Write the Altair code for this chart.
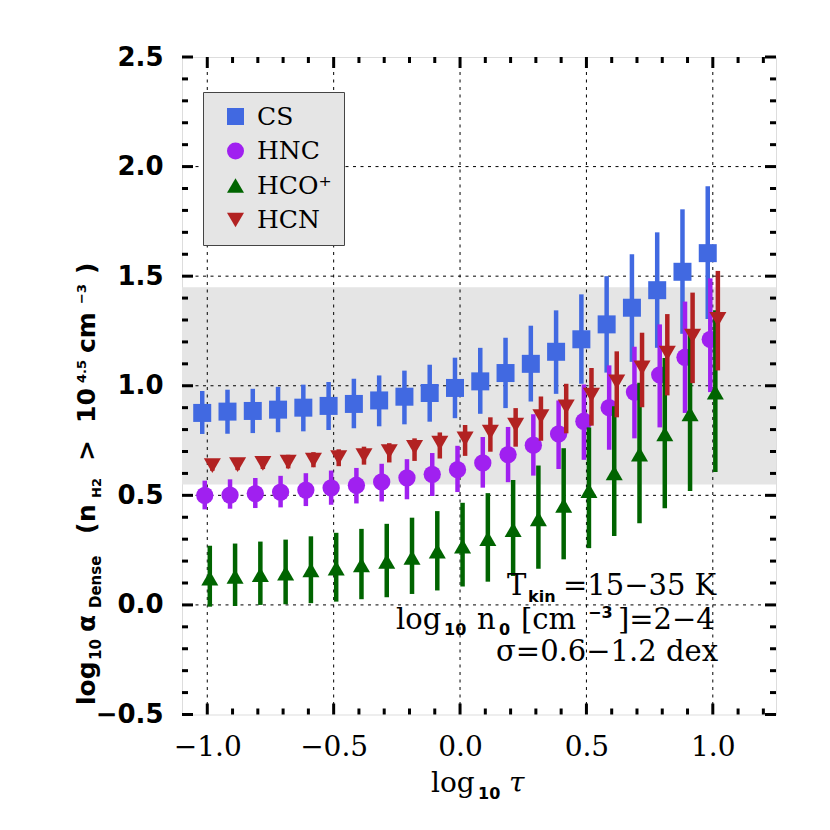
import altair as alt
import pandas as pd

# ---------------- data ----------------
tau = [-1.0, -0.9, -0.8, -0.7, -0.6, -0.5, -0.4, -0.3, -0.2, -0.1, 0.0,
       0.1, 0.2, 0.3, 0.4, 0.5, 0.6, 0.7, 0.8, 0.9, 1.0]

species = ["CS", "HNC", "HCO⁺", "HCN"]
colors = ["#4169E1", "#A020F0", "#006400", "#B22222"]
shapes = ["square", "circle", "triangle-up", "triangle-down"]
x_shift = [-0.02, -0.01, 0.01, 0.02]

cs_mid = [0.876, 0.882, 0.885, 0.891, 0.900, 0.908, 0.917, 0.933, 0.950, 0.967, 0.990,
          1.020, 1.058, 1.100, 1.155, 1.212, 1.280, 1.356, 1.436, 1.520, 1.605]
cs_hi = [0.976, 0.982, 0.986, 0.995, 1.005, 1.017, 1.032, 1.047, 1.069, 1.096, 1.128,
         1.173, 1.219, 1.274, 1.344, 1.417, 1.500, 1.600, 1.700, 1.805, 1.910]
cs_lo = [0.780, 0.781, 0.784, 0.788, 0.792, 0.798, 0.806, 0.815, 0.824, 0.836, 0.852,
         0.872, 0.898, 0.928, 0.963, 1.009, 1.060, 1.109, 1.173, 1.237, 1.304]

hnc_mid = [0.500, 0.501, 0.508, 0.515, 0.524, 0.534, 0.546, 0.561, 0.580, 0.596, 0.617,
           0.648, 0.686, 0.729, 0.780, 0.838, 0.900, 0.971, 1.050, 1.130, 1.212]
hnc_hi = [0.567, 0.573, 0.579, 0.589, 0.601, 0.613, 0.625, 0.644, 0.665, 0.693, 0.726,
          0.766, 0.812, 0.870, 0.933, 1.006, 1.093, 1.178, 1.280, 1.384, 1.490]
hnc_lo = [0.436, 0.439, 0.442, 0.445, 0.451, 0.457, 0.463, 0.472, 0.482, 0.497, 0.515,
          0.535, 0.560, 0.590, 0.620, 0.662, 0.708, 0.760, 0.810, 0.876, 0.971]

hco_mid = [0.122, 0.130, 0.138, 0.145, 0.160, 0.168, 0.183, 0.199, 0.217, 0.245, 0.268,
           0.302, 0.343, 0.393, 0.454, 0.522, 0.602, 0.688, 0.780, 0.872, 0.971]
hco_hi = [0.270, 0.280, 0.289, 0.298, 0.313, 0.329, 0.347, 0.370, 0.398, 0.428, 0.466,
          0.510, 0.570, 0.636, 0.715, 0.810, 0.907, 1.014, 1.127, 1.246, 1.345]
hco_lo = [-0.008, -0.005, 0.000, 0.003, 0.008, 0.015, 0.026, 0.035, 0.050, 0.066, 0.084,
          0.106, 0.132, 0.165, 0.208, 0.259, 0.315, 0.373, 0.441, 0.520, 0.607]

hcn_mid = [0.636, 0.640, 0.646, 0.652, 0.661, 0.672, 0.681, 0.700, 0.719, 0.738, 0.758,
           0.788, 0.820, 0.859, 0.904, 0.957, 1.018, 1.081, 1.149, 1.227, 1.303]
hcn_hi = [0.660, 0.667, 0.676, 0.685, 0.697, 0.710, 0.722, 0.738, 0.760, 0.787, 0.821,
          0.856, 0.898, 0.951, 1.009, 1.081, 1.157, 1.242, 1.327, 1.425, 1.524]
hcn_lo = [0.612, 0.615, 0.620, 0.623, 0.628, 0.633, 0.640, 0.650, 0.657, 0.668, 0.680,
          0.699, 0.722, 0.749, 0.783, 0.818, 0.856, 0.902, 0.956, 1.012, 1.070]

mids = [cs_mid, hnc_mid, hco_mid, hcn_mid]
his = [cs_hi, hnc_hi, hco_hi, hcn_hi]
los = [cs_lo, hnc_lo, hco_lo, hcn_lo]

band_lo = [0.55]
band_hi = [1.45]

x_major = [-1.0, -0.5, 0.0, 0.5, 1.0]
x_minor = [-0.9, -0.8, -0.7, -0.6, -0.4, -0.3, -0.2, -0.1, 0.1, 0.2, 0.3, 0.4,
           0.6, 0.7, 0.8, 0.9, 1.1, 1.2]
y_major = [-0.5, 0.0, 0.5, 1.0, 1.5, 2.0, 2.5]
y_minor = [-0.4, -0.3, -0.2, -0.1, 0.1, 0.2, 0.3, 0.4, 0.6, 0.7, 0.8, 0.9,
           1.1, 1.2, 1.3, 1.4, 1.6, 1.7, 1.8, 1.9, 2.1, 2.2, 2.3, 2.4]
x_grid = [-1.0, -0.5, 0.0, 0.5, 1.0]
y_grid = [0.0, 0.5, 1.0, 1.5, 2.0]

# ---------------- style ----------------
W, H = 594, 657.5
SERIF = "DejaVu Serif"
SANS = "DejaVu Sans"

xs = alt.Scale(domain=[-1.1, 1.25], nice=False, zero=False)
ys = alt.Scale(domain=[-0.5, 2.5], nice=False, zero=False)

xaxis = alt.Axis(values=x_major, format=".1f", title=None, ticks=False, tickSize=0,
                 domain=False, grid=False, labelFont=SERIF, labelFontSize=28,
                 labelPadding=19, labelColor="black", labelFlush=False, labelOverlap=False)
yaxis = alt.Axis(values=y_major, format=".1f", title=None, ticks=False, tickSize=0,
                 domain=False, grid=False, labelFont=SANS, labelFontWeight="bold",
                 labelFontSize=26, labelPadding=19, labelColor="black",
                 labelFlush=False, labelOverlap=False)


def X(f):
    return alt.X(f, type="quantitative", scale=xs, axis=xaxis)


def Y(f):
    return alt.Y(f, type="quantitative", scale=ys, axis=yaxis)


legend = alt.Legend(title=None, orient="none", legendX=21, legendY=35,
                    fillColor="#e5e5e5", strokeColor="#444444", padding=12,
                    symbolSize=290, symbolOffset=8, labelOffset=9,
                    symbolStrokeWidth=0, symbolOpacity=1, rowPadding=8.5,
                    labelFont=SERIF, labelFontSize=25, labelColor="black",
                    labelLimit=200)
color_enc = alt.Color("species:N", scale=alt.Scale(domain=species, range=colors), legend=legend)
shape_enc = alt.Shape("species:N", scale=alt.Scale(domain=species, range=shapes), legend=legend)

layers = []

# grey band
band_df = pd.DataFrame({"lo": band_lo, "hi": band_hi})
layers.append(alt.Chart(band_df).mark_rect(color="#e5e5e5").encode(
    x=alt.value(0), x2=alt.value(W), y=Y("lo"), y2=alt.Y2("hi")))

# dotted grid
dash = [3, 4.5]
layers.append(alt.Chart(pd.DataFrame({"g": x_grid})).mark_rule(
    color="black", strokeWidth=1, strokeDash=dash).encode(x=X("g")))
layers.append(alt.Chart(pd.DataFrame({"g": y_grid})).mark_rule(
    color="black", strokeWidth=1, strokeDash=dash).encode(y=Y("g")))

# series
sizes = [324, 300, 290, 290]
for i, sp in enumerate(species):
    df = pd.DataFrame({
        "x": [t + x_shift[i] for t in tau],
        "mid": mids[i], "lo": los[i], "hi": his[i],
        "species": sp,
    })
    layers.append(alt.Chart(df).mark_rule(color=colors[i], strokeWidth=4.5).encode(
        x=X("x"), y=Y("lo"), y2=alt.Y2("hi")))
    layers.append(alt.Chart(df).mark_point(filled=True, opacity=1, size=sizes[i], strokeWidth=0).encode(
        x=X("x"), y=Y("mid"), color=color_enc, shape=shape_enc))

# inward ticks (all four sides)
TK_MAJ, TK_MIN = 11, 6
for vals, ln in ((x_major, TK_MAJ), (x_minor, TK_MIN)):
    d = pd.DataFrame({"v": vals})
    layers.append(alt.Chart(d).mark_rule(color="black", strokeWidth=3).encode(
        x=X("v"), y=alt.value(H), y2=alt.value(H - ln)))
    layers.append(alt.Chart(d).mark_rule(color="black", strokeWidth=3).encode(
        x=X("v"), y=alt.value(0), y2=alt.value(ln)))
for vals, ln in ((y_major, TK_MAJ), (y_minor, TK_MIN)):
    d = pd.DataFrame({"v": vals})
    layers.append(alt.Chart(d).mark_rule(color="black", strokeWidth=3).encode(
        y=Y("v"), x=alt.value(0), x2=alt.value(ln)))
    layers.append(alt.Chart(d).mark_rule(color="black", strokeWidth=3).encode(
        y=Y("v"), x=alt.value(W), x2=alt.value(W - ln)))

# ---------------- text ----------------
one = pd.DataFrame({"a": [0]})


def txt(s, x, y, size, font=SERIF, weight="normal", align="left", angle=None, style="normal"):
    kw = dict(text=s, font=font, fontSize=size, fontWeight=weight, align=align,
              baseline="alphabetic", color="black", fontStyle=style)
    if angle is not None:
        kw["angle"] = angle
    return alt.Chart(one).mark_text(**kw).encode(x=alt.value(x), y=alt.value(y))


# annotation (plot coordinates: page x - 182, page y - 57)
AS = 29
layers += [
    txt("T", 325, 538, AS),
    txt("kin", 346, 545, 16, font=SANS, weight="bold"),
    txt("=15−35 K", 381, 538, AS),
    txt("log", 214, 571.5, AS),
    txt("10", 262, 578, 16, font=SANS, weight="bold"),
    txt("n", 295, 571.5, AS),
    txt("0", 317, 578, 16, font=SANS, weight="bold"),
    txt("[cm", 339, 571.5, AS),
    txt("−3", 406, 561, 16, font=SANS, weight="bold"),
    txt("]=2−4", 436, 571.5, AS),
    txt("σ=0.6−1.2 dex", 536, 604, AS, align="right"),
]

# x-axis title: log10 tau
layers += [
    txt("log", 249, 735, 28),
    txt("10", 296, 742, 16, font=SANS, weight="bold"),
    txt("τ", 327, 735, 28, style="italic"),
]

# y-axis title (rotated)
BX, SUBX, SUPX = -87, -81, -96
ytitle = [
    ("log", BX, 648, 25), ("10", SUBX, 603, 15), ("α", BX, 575, 25),
    ("Dense", SUBX, 551, 15), ("(", BX, 477, 25), ("n", BX, 465, 25),
    ("H2", SUBX, 441, 13), (">", BX, 404, 25), ("10", BX, 366, 25),
    ("4.5", SUPX, 326, 13), ("cm", BX, 296, 25), ("−3", SUPX, 247, 13),
    (")", BX, 217, 25),
]
for s, x, y, sz in ytitle:
    layers.append(txt(s, x, y, sz, font=SANS, weight="bold", angle=270))

chart = alt.layer(*layers).properties(
    width=W, height=H,
    autosize=alt.AutoSizeParams(type="none"),
    padding={"left": 174, "top": 49, "right": 40, "bottom": 100},
).configure_view(stroke="black", strokeWidth=3).configure(background="white")

chart.save("out.html", embed_options={"renderer": "svg", "actions": False})
